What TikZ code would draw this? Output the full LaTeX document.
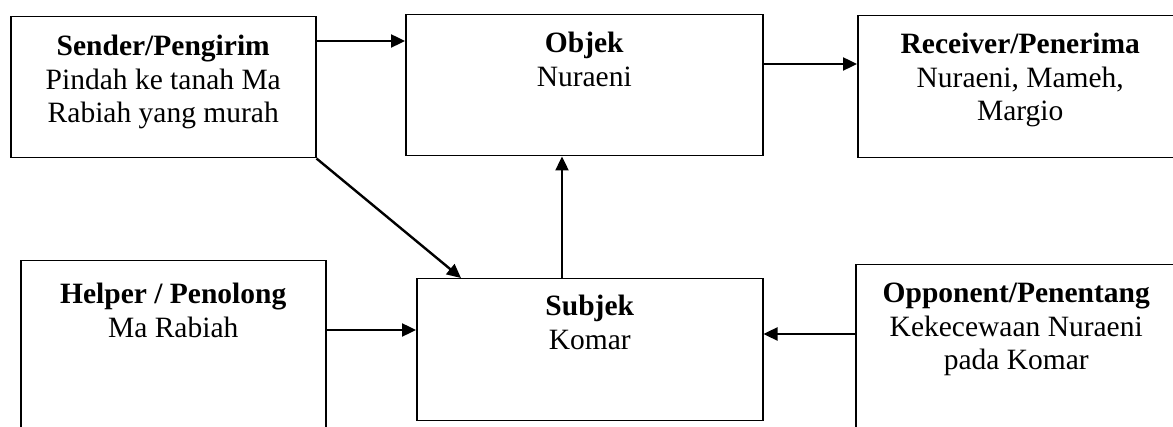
\documentclass[tikz,border=0pt]{standalone}
\usepackage{fontspec}
\setmainfont{Liberation Serif}
\usetikzlibrary{arrows.meta}
\begin{document}
\begin{tikzpicture}[x=1pt,y=-1pt,
  box/.style={draw, line width=1.5pt, rectangle, inner sep=0pt, anchor=north west},
  label/.style={anchor=north, inner sep=0pt, align=center,
    font=\fontsize{29.5}{33.5}\selectfont},
  arr/.style={line width=2.4pt, -{Triangle[length=14pt,width=13pt]}}]
  \useasboundingbox (0,0) rectangle (1173,427);
  \clip (0,0) rectangle (1173,427);

  % actant boxes
  \node[box, minimum width=305pt, minimum height=141pt] (sender) at (10,16) {};
  \node[box, minimum width=357pt, minimum height=141pt] (objek) at (405,14) {};
  \node[box, minimum width=325pt, minimum height=142pt] (receiver) at (857,15) {};
  \node[box, minimum width=305pt, minimum height=240pt] (helper) at (20,260) {};
  \node[box, minimum width=346pt, minimum height=142pt] (subjek) at (416,278) {};
  \node[box, minimum width=321pt, minimum height=240pt] (opponent) at (855,264) {};

  % box texts
  \node[label] (tsender) at ([yshift=-19pt]sender.north) {\textbf{Sender/Pengirim}\\Pindah ke tanah Ma\\Rabiah yang murah};
  \node[label] (tobjek) at ([yshift=-18pt]objek.north) {\textbf{Objek}\\Nuraeni};
  \node[label] (treceiver) at ([yshift=-18pt]receiver.north) {\textbf{Receiver/Penerima}\\Nuraeni, Mameh,\\Margio};
  \node[label] (thelper) at ([yshift=-23pt]helper.north) {\textbf{Helper / Penolong}\\Ma Rabiah};
  \node[label] (tsubjek) at ([yshift=-17pt]subjek.north) {\textbf{Subjek}\\Komar};
  \node[label] (topponent) at ([yshift=-19pt]opponent.north) {\textbf{Opponent/Penentang}\\Kekecewaan Nuraeni\\pada Komar};

  % connectors
  \coordinate (s1) at ([yshift=-25pt]sender.north east);
  \draw[arr] (s1) -- (s1 -| objek.west);
  \coordinate (o1) at ([yshift=-50pt]objek.north east);
  \draw[arr] (o1) -- (o1 -| receiver.west);
  \draw[arr] (sender.south east) -- ([xshift=45pt]subjek.north west);
  \coordinate (u1) at ([xshift=146pt]subjek.north west);
  \draw[arr] (u1) -- (u1 |- objek.south);
  \coordinate (h1) at ([yshift=-52pt]subjek.north west);
  \draw[arr] (h1 -| helper.east) -- (h1);
  \coordinate (p1) at ([yshift=-56pt]subjek.north east);
  \draw[arr] (p1 -| opponent.west) -- (p1);
\end{tikzpicture}
\end{document}
